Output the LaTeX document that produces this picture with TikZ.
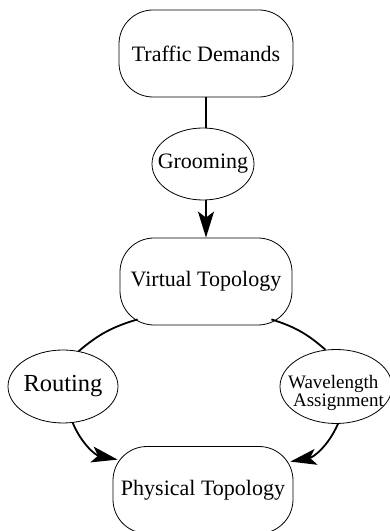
\documentclass[tikz,border=0pt]{standalone}
\usepackage{fontspec}
\setmainfont{Liberation Serif}
\usetikzlibrary{shapes.geometric,arrows.meta}
\begin{document}
\begin{tikzpicture}[x=1pt,y=1pt,
  box/.style={draw, line width=0.8pt, rounded corners=34pt, minimum width=#1,
    minimum height=87pt, inner sep=0pt, font=\fontsize{22}{26}\selectfont},
  oval/.style={draw, ellipse, line width=0.8pt, inner sep=0pt,
    font=\fontsize{22}{26}\selectfont},
  conn/.style={line width=1.8pt},
  arr/.style={conn, -{Stealth[length=26pt,width=16pt,inset=6pt]}}]
\useasboundingbox (0,0) rectangle (389,531);

% stages and the steps between them
\node[box=174pt] (td) at (206,477.5) {Traffic Demands};
\node[oval, minimum width=102pt, minimum height=72pt] (gr) at (203,367)
  {\makebox[0pt]{Grooming}};
\node[box=172pt] (vt) at (206,249.5) {Virtual Topology};
\node[oval, minimum width=110pt, minimum height=73pt,
  font=\fontsize{24.5}{28}\selectfont] (ro) at (63,144.5)
  {\makebox[0pt]{Routing}};
\node[oval, minimum width=112pt, minimum height=74pt] (wa) at (336,144.5) {};
\node[font=\fontsize{19}{18}\selectfont, align=left, inner sep=0pt] (wat)
  at ([yshift=-6pt]wa.center) {Wavelength\\\hspace*{5pt}Assignment};
\node[box=180pt] (pt) at (203,41) {Physical Topology};

% connectors
\draw[conn] (td.south) -- (td.south |- gr.north);
\draw[arr] (gr.south -| vt.north) -- (vt.north);
\draw[conn] ([xshift=18pt,yshift=6pt]vt.south west) to[bend right=12] (ro.66);
\draw[arr] (ro.-75) to[bend right=28] ([xshift=5pt,yshift=-13.5pt]pt.north west);
\draw[conn] ([xshift=-21pt,yshift=6pt]vt.south east) to[bend left=12] (wa.106);
\draw[arr] (wa.-87) to[bend left=28] ([xshift=-3pt,yshift=-15.5pt]pt.north east);
\end{tikzpicture}
\end{document}
